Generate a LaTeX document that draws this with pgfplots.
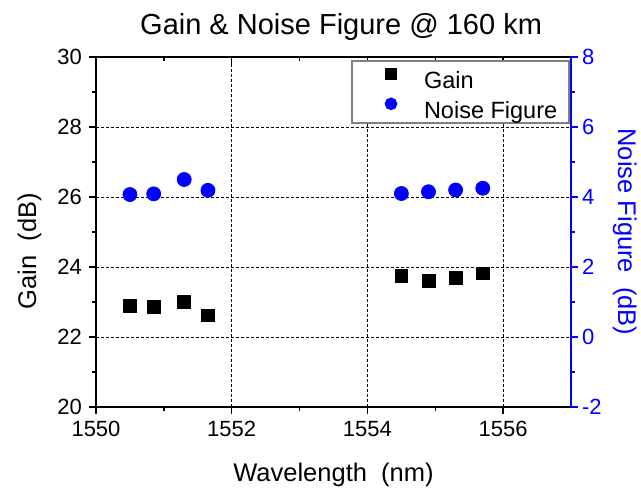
\documentclass[border=0pt]{standalone}
\usepackage{pgfplots}
\pgfplotsset{compat=1.18}
\usepackage{fontspec}
\setmainfont{Liberation Sans}
\definecolor{nfblue}{RGB}{0,0,255}
\pgfplotsset{mylegimg/.style={legend image code/.code={\path[draw=none,fill=none] (0pt,-2.5pt) rectangle (30pt,10pt); \draw[##1] plot coordinates {(13.5pt,4pt)};}}}
\begin{document}
\begin{tikzpicture}
\useasboundingbox (-48pt,-40.5pt) rectangle (272.5pt,203.5pt);
\pgfplotsset{
  base/.style={
    scale only axis, width=237.5pt, height=175pt,
    at={(0,0)}, anchor=south west,
    xmin=1550, xmax=1557,
    /pgf/number format/assume math mode=true,
    /pgf/number format/1000 sep={},
    xtick={1550,1552,1554,1556},
    minor x tick num=1,
    major tick length=3.5pt, minor tick length=2pt,
    tick label style={font=\fontsize{11}{11}\selectfont},
  }
}
% main gain axis
\begin{axis}[base,
  ymin=20, ymax=30, ytick={20,22,...,30}, minor y tick num=1,
  xtick pos=bottom, ytick pos=left, tick align=outside,
  axis line style={line width=0.65pt},
  every tick/.style={black, line width=0.65pt},
  grid=major,
  major grid style={black, line width=0.5pt, dash pattern=on 1.5pt off 1pt},
  xlabel={Wavelength\ \ (nm)},
  ylabel={Gain\ \ (dB)},
  label style={font=\fontsize{12.75}{12.75}\selectfont},
  xlabel style={at={(axis description cs:0.5,0)}, anchor=base, yshift=-37.3pt},
  ylabel style={at={(axis description cs:-0.1263,0.4457)}, anchor=base},
  title={Gain \& Noise Figure @ 160 km},
  title style={font=\fontsize{14.5}{14.5}\selectfont, at={(axis description cs:0.516,1)}, anchor=base, yshift=5.5pt},
]
\addplot[only marks, mark=square*, mark size=3.2pt, black] coordinates {
(1550.50,22.90) (1550.85,22.85) (1551.30,23.00) (1551.65,22.62)
(1554.50,23.75) (1554.90,23.60) (1555.30,23.70) (1555.70,23.82)
};
\end{axis}
% top ticks pointing inward
\begin{axis}[base,
  ymin=20, ymax=30,
  axis x line*=top, axis y line=none,
  tick align=inside, xticklabels={}, ytick=\empty,
  axis line style={line width=0.65pt},
  every tick/.style={black, line width=0.65pt},
]
\end{axis}
% noise figure axis
\begin{axis}[base,
  ymin=-2, ymax=8, ytick={-2,0,...,8}, minor y tick num=1,
  axis y line*=right, axis x line=none,
  tick align=outside,
  axis line style={nfblue, line width=0.7pt},
  every tick/.style={nfblue, line width=0.7pt},
  yticklabel style={text=nfblue, xshift=-1.5pt},
  ylabel={Noise Figure\ \ (dB)},
  ylabel style={font=\fontsize{12.75}{12.75}\selectfont, text=nfblue, rotate=-180, at={(axis description cs:1.099,0.5)}, anchor=base},
  legend style={at={(axis description cs:0.998,0.9914)}, anchor=north east,
    draw=gray, line width=0.8pt, fill=white,
    inner xsep=6pt, inner ysep=0.5pt, row sep=0pt,
    font=\fontsize{11.75}{11.75}\selectfont,
    nodes={inner sep=0pt}},
  legend cell align=left,
]
\addlegendimage{only marks, mark=square*, mark size=2.5pt, black, mylegimg}
\addlegendentry{Gain}
\addlegendimage{only marks, mark=*, mark size=2.75pt, nfblue, mylegimg}
\addlegendentry{Noise Figure}
\addplot[only marks, mark=*, mark size=3.5pt, nfblue, forget plot] coordinates {
(1550.50,4.07) (1550.85,4.09) (1551.30,4.50) (1551.65,4.19)
(1554.50,4.10) (1554.90,4.15) (1555.30,4.20) (1555.70,4.25)
};
\end{axis}
\end{tikzpicture}
\end{document}
